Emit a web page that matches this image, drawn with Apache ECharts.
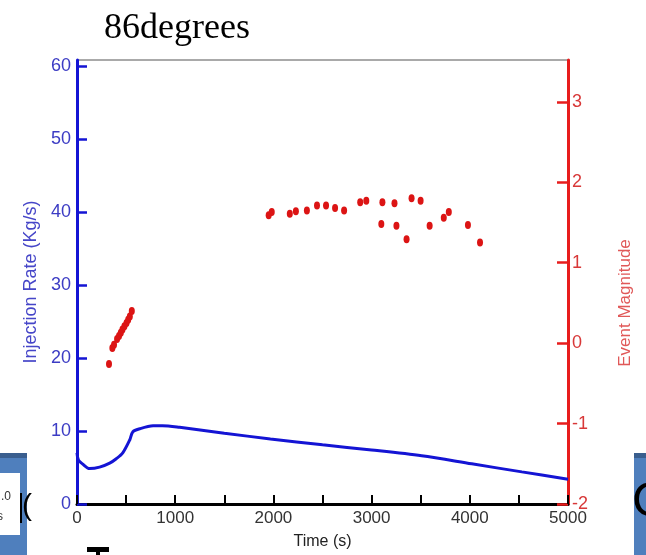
<!DOCTYPE html>
<html><head><meta charset="utf-8">
<script src="https://cdn.jsdelivr.net/npm/echarts@6/dist/echarts.min.js"></script>
<style>html,body{margin:0;padding:0;background:#fff}#c{width:646px;height:555px}</style>
</head><body><div id="c"></div><script>
// Injection rate curve (time s, Kg/s)
const rateTime  = [0, 15, 55, 128, 230, 333, 400, 466, 538, 569, 640, 775, 870, 1045, 1500, 1970, 2500, 3000, 3510, 4020, 4530, 5000];
const rateValue = [7.0, 6.0, 5.5, 4.85, 5.05, 5.6, 6.2, 7.0, 8.8, 9.9, 10.3, 10.7, 10.72, 10.5, 9.7, 8.9, 8.1, 7.4, 6.6, 5.5, 4.4, 3.4];
// Seismic events (time s, magnitude)
const eventTime = [326, 360, 377, 408, 428, 446, 463, 483, 504, 521, 538, 558,
  1952, 1983, 2167, 2229, 2341, 2444, 2536, 2628, 2720, 2884, 2946, 3110, 3099, 3233, 3253, 3356, 3407, 3499, 3591, 3735, 3786, 3981, 4104];
const eventMagnitude = [-0.26, -0.06, -0.02, 0.05, 0.09, 0.13, 0.17, 0.21, 0.25, 0.29, 0.33, 0.40,
  1.59, 1.63, 1.61, 1.64, 1.65, 1.71, 1.71, 1.68, 1.65, 1.75, 1.77, 1.75, 1.48, 1.74, 1.46, 1.29, 1.80, 1.77, 1.46, 1.56, 1.63, 1.47, 1.25];
const xLabels = [0, 1000, 2000, 3000, 4000, 5000];
const rateTicks = [0, 10, 20, 30, 40, 50, 60];
const magTicks = [-2, -1, 0, 1, 2, 3];

const FONT = 'Liberation Sans, Arial, sans-serif';
const BLUE = '#1414d4';
const RED = '#e81c1c';

const chart = echarts.init(document.getElementById('c'), null, {renderer: 'canvas'});
chart.setOption({
  animation: false,
  backgroundColor: '#fff',
  title: {
    text: '86degrees', left: 99, top: 6,
    textStyle: {fontFamily: 'Liberation Serif, Times New Roman, serif', fontSize: 36, fontWeight: 'normal', color: '#000'}
  },
  grid: {left: 77, right: 78, top: 60, bottom: 51, show: true, borderColor: '#555', borderWidth: 1, containLabel: false, outerBoundsMode: 'none'},
  xAxis: {
    type: 'value', min: 0, max: 5000, interval: 500,
    name: 'Time (s)', nameLocation: 'middle', nameGap: 30,
    nameTextStyle: {fontFamily: FONT, fontSize: 16, color: '#222'},
    axisLine: {show: true, onZero: false, lineStyle: {color: '#000', width: 3}},
    axisTick: {show: true, inside: true, length: 9, lineStyle: {color: '#000', width: 2}},
    axisLabel: {fontFamily: FONT, fontSize: 17, color: '#333', margin: 6,
      formatter: v => (xLabels.indexOf(v) >= 0 ? String(v) : '')},
    splitLine: {show: false}
  },
  yAxis: [
    {
      type: 'value', position: 'left', min: 0, max: 60.8,
      name: 'Injection Rate (Kg/s)', nameLocation: 'middle', nameGap: 30,
      nameTextStyle: {fontFamily: FONT, fontSize: 18, color: '#4646c8'},
      axisLine: {show: true, onZero: false, lineStyle: {color: BLUE, width: 3}},
      axisTick: {show: true, inside: true, length: 10, customValues: rateTicks, lineStyle: {color: BLUE, width: 2.5}},
      axisLabel: {fontFamily: FONT, fontSize: 18, color: '#3c3cc4', margin: 6, customValues: rateTicks},
      splitLine: {show: false}
    },
    {
      type: 'value', position: 'right', min: -2, max: 3.52,
      name: 'Event Magnitude', nameLocation: 'middle', nameGap: 49,
      nameTextStyle: {fontFamily: FONT, fontSize: 17, color: '#e05858', padding: [0, 42, 0, 0]},
      axisLine: {show: true, onZero: false, lineStyle: {color: RED, width: 3}},
      axisTick: {show: true, inside: true, length: 11, customValues: magTicks, lineStyle: {color: RED, width: 2.5}},
      axisLabel: {fontFamily: FONT, fontSize: 18, color: '#d83838', margin: 4, customValues: magTicks},
      splitLine: {show: false}
    }
  ],
  series: [
    {
      type: 'line', yAxisIndex: 0, data: rateTime.map((t, i) => [t, rateValue[i]]),
      showSymbol: false, smooth: 0.3, lineStyle: {color: BLUE, width: 3}, z: 3
    },
    {
      type: 'scatter', yAxisIndex: 1, data: eventTime.map((t, i) => [t, eventMagnitude[i]]),
      symbol: 'circle', symbolSize: [6, 8], itemStyle: {color: '#dc1414', opacity: 1}, z: 4
    }
  ],
  graphic: [
    {type: 'rect', shape: {x: 0, y: 453, width: 27, height: 102}, style: {fill: '#4f7fbd'}},
    {type: 'rect', shape: {x: 0, y: 453, width: 27, height: 5}, style: {fill: '#3a5e8e'}},
    {type: 'rect', shape: {x: 0, y: 473, width: 20, height: 62}, style: {fill: '#fff'}},
    {type: 'text', x: 1, y: 491, style: {text: '.0', fontFamily: FONT, fontSize: 12, fill: '#333'}},
    {type: 'text', x: -3, y: 511, style: {text: 's', fontFamily: FONT, fontSize: 12, fill: '#333'}},
    {type: 'rect', shape: {x: 20, y: 493, width: 2, height: 30}, style: {fill: '#000'}},
    {type: 'text', x: 22, y: 492, style: {text: '(', fontFamily: FONT, fontSize: 30, fill: '#000'}},
    {type: 'rect', shape: {x: 634, y: 453, width: 12, height: 102}, style: {fill: '#4f7fbd'}},
    {type: 'rect', shape: {x: 634, y: 453, width: 12, height: 5}, style: {fill: '#3a5e8e'}},
    {type: 'text', x: 632, y: 479, style: {text: 'C', fontFamily: FONT, fontSize: 48, fill: '#000'}},
    {type: 'rect', shape: {x: 87, y: 547, width: 22, height: 5}, style: {fill: '#000'}},
    {type: 'rect', shape: {x: 96, y: 550, width: 4, height: 5}, style: {fill: '#000'}}
  ]
});
</script></body></html>
